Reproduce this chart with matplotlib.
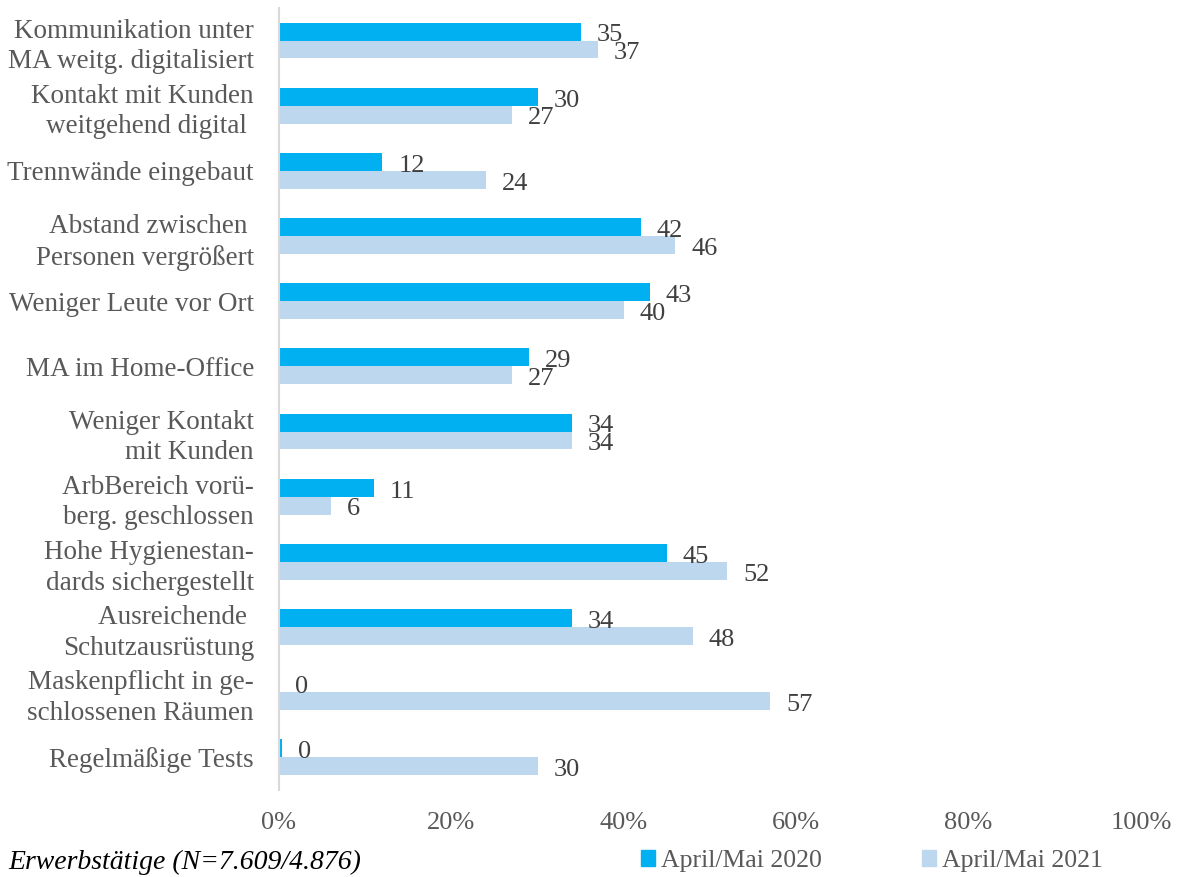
import matplotlib.pyplot as plt
from matplotlib.patches import Patch

categories = [
    'Kommunikation unter\nMA weitg. digitalisiert',
    'Kontakt mit Kunden\nweitgehend digital ',
    'Trennwände eingebaut',
    'Abstand zwischen \nPersonen vergrößert',
    'Weniger Leute vor Ort',
    'MA im Home-Office',
    'Weniger Kontakt\nmit Kunden',
    'ArbBereich vorü-\nberg. geschlossen',
    'Hohe Hygienestan-\ndards sichergestellt',
    'Ausreichende \nSchutzausrüstung',
    'Maskenpflicht in ge-\nschlossenen Räumen',
    'Regelmäßige Tests',
]
vals_2020 = [35, 30, 12, 42, 43, 29, 34, 11, 45, 34, 0, 0.4]
vals_2021 = [37, 27, 24, 46, 40, 27, 34, 6, 52, 48, 57, 30]
xticks = [0, 20, 40, 60, 80, 100]

c2020 = '#00B0F0'
c2021 = '#BDD7EE'
grey = '#595959'

plt.rcParams['font.family'] = ['Liberation Serif', 'DejaVu Serif']

fig = plt.figure(figsize=(11.77, 8.77), dpi=100)
ax = fig.add_axes([0.237, 0.0992, 0.7324, 0.8917])

y = list(range(len(categories)))
h = 0.275
b1 = ax.barh([i - h / 2 for i in y], vals_2020, height=h, color=c2020)
b2 = ax.barh([i + h / 2 for i in y], vals_2021, height=h, color=c2021)

# labels sit ~16px right of the bar end, digits centred on the bar
for bars, vals in ((b1, vals_2020), (b2, vals_2021)):
    for bar, v in zip(bars, vals):
        ax.text(v + 1.85, bar.get_y() + bar.get_height() / 2 + 0.15, f'{v:.0f}',
                ha='left', va='baseline', fontsize=19, color='#404040')

ax.set_ylim(len(categories) - 0.5, -0.5)
ax.set_xlim(0, 100)
ax.set_yticks(y)
ax.set_yticklabels(categories, fontsize=19.5, color=grey, linespacing=1.3)
ax.set_xticks(xticks)
ax.set_xticklabels([f'{t}%' for t in xticks], fontsize=19, color=grey)
ax.tick_params(axis='both', length=0)
ax.tick_params(axis='y', pad=18)
ax.tick_params(axis='x', pad=16)
for s in ('top', 'right', 'bottom'):
    ax.spines[s].set_visible(False)
ax.spines['left'].set_color('#D9D9D9')
ax.spines['left'].set_linewidth(1.5)

fig.text(0.007, 0.017, 'Erwerbstätige (N=7.609/4.876)', style='italic',
         fontsize=20, color='black', va='center')

handles = [Patch(color=c2020, label='April/Mai 2020'),
           Patch(color=c2021, label='April/Mai 2021')]
fig.legend(handles=handles, loc='center', bbox_to_anchor=(0.7405, 0.018), ncol=2,
           frameon=False, fontsize=18.5, labelcolor=grey, handlelength=0.55,
           handleheight=0.55, handletextpad=0.23, columnspacing=3.9)

fig.savefig('out.png', dpi=100)
